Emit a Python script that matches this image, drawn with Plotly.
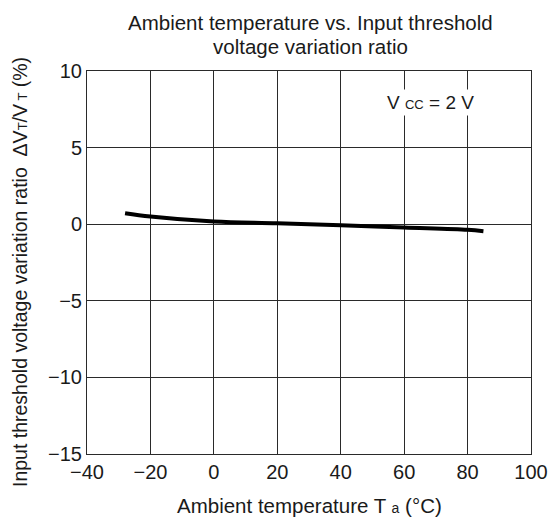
import plotly.graph_objects as go

temp_c = [-28, -20, 0, 20, 40, 60, 80, 85]
ratio_pct = [0.72, 0.50, 0.17, 0.06, -0.07, -0.22, -0.37, -0.46]

x_ticks = [-40, -20, 0, 20, 40, 60, 80, 100]
y_ticks = [-15, -10, -5, 0, 5, 10]

title_lines = ["Ambient temperature vs. Input threshold", "voltage variation ratio"]
x_title = "Ambient temperature T <span style='font-size:14px'>a</span> (°C)"
y_title = ("Input threshold voltage variation ratio  ΔV<span style='font-size:13px'>T</span>"
           "/V<span style='font-size:13px'> T</span> (%)")
vcc_label = "V <span style='font-size:13px'>CC</span> = 2 V"

font_family = "Liberation Sans, Arial, sans-serif"
txt = "#1a1a1a"
grid = "#2a2a2a"

fig = go.Figure()
fig.add_trace(go.Scatter(x=temp_c, y=ratio_pct, mode="lines",
                         line=dict(color="black", width=4, shape="spline"),
                         showlegend=False, hoverinfo="skip"))

fig.add_annotation(x=68.2, y=7.95, xref="x", yref="y", text=vcc_label,
                   showarrow=False, bgcolor="white", borderpad=2,
                   font=dict(family=font_family, size=19, color=txt))

# title (two separately placed lines)
fig.add_annotation(x=0.503, y=1.126, xref="paper", yref="paper", text=title_lines[0],
                   showarrow=False, xanchor="center", yanchor="middle",
                   font=dict(family=font_family, size=20.5, color=txt))
fig.add_annotation(x=0.503, y=1.064, xref="paper", yref="paper", text=title_lines[1],
                   showarrow=False, xanchor="center", yanchor="middle",
                   font=dict(family=font_family, size=20.5, color=txt))
# axis titles
fig.add_annotation(x=0.5, y=-0.135, xref="paper", yref="paper", text=x_title,
                   showarrow=False, xanchor="center", yanchor="middle",
                   font=dict(family=font_family, size=20.5, color=txt))
fig.add_annotation(x=-0.151, y=0.475, xref="paper", yref="paper", text=y_title,
                   showarrow=False, xanchor="center", yanchor="middle", textangle=-90,
                   font=dict(family=font_family, size=19.5, color=txt))

fig.update_layout(
    width=552, height=511,
    margin=dict(l=79, r=18, t=63, b=65),
    paper_bgcolor="white", plot_bgcolor="white",
    font=dict(family=font_family, size=20, color=txt),
    xaxis=dict(range=[-40, 100], tickvals=x_ticks, showgrid=True,
               gridcolor=grid, gridwidth=1, zeroline=False,
               showline=True, linecolor=grid, linewidth=1, mirror=True,
               ticks="", ticklen=0, tickfont=dict(size=20)),
    yaxis=dict(range=[-15, 10], tickvals=y_ticks, showgrid=True,
               gridcolor=grid, gridwidth=1, zeroline=False,
               showline=True, linecolor=grid, linewidth=1, mirror=True,
               ticks="", ticklen=0, tickfont=dict(size=20)),
)

fig.write_html("out.html")
